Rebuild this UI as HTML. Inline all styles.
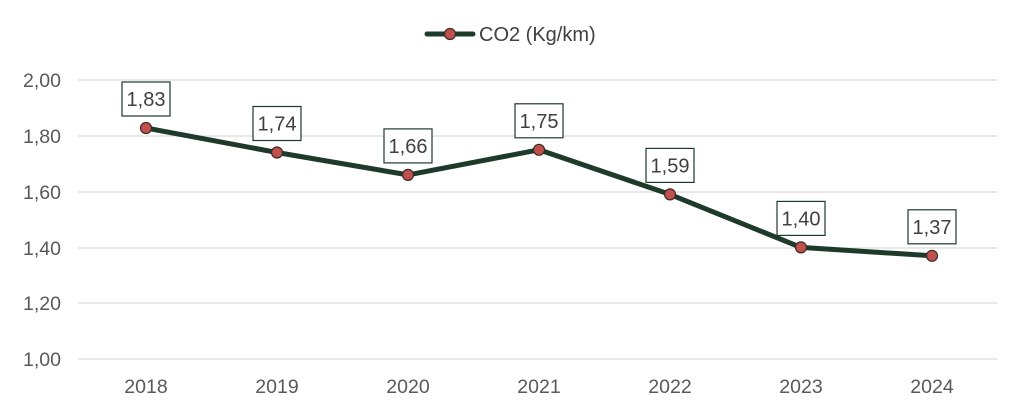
<!DOCTYPE html>
<html><head><meta charset="utf-8"><style>
html,body{margin:0;padding:0;background:#fff;}
svg text{font-family:"Liberation Sans",sans-serif;}
</style></head><body>
<svg width="1024" height="415" viewBox="0 0 1024 415" xmlns="http://www.w3.org/2000/svg">
<rect width="1024" height="415" fill="#fff"/>
<g stroke="#d9d9d9" stroke-width="1.2">
<line x1="78" x2="997" y1="80" y2="80"/>
<line x1="78" x2="997" y1="136" y2="136"/>
<line x1="78" x2="997" y1="192" y2="192"/>
<line x1="78" x2="997" y1="248" y2="248"/>
<line x1="78" x2="997" y1="303" y2="303"/>
<line x1="78" x2="997" y1="359" y2="359"/>
</g>
<g fill="#595959" font-size="19.5" text-anchor="end">
<text x="61" y="87">2,00</text>
<text x="61" y="143">1,80</text>
<text x="61" y="199">1,60</text>
<text x="61" y="255">1,40</text>
<text x="61" y="310">1,20</text>
<text x="61" y="366">1,00</text>
</g>
<g fill="#595959" font-size="19.5" text-anchor="middle">
<text x="146" y="393">2018</text>
<text x="277" y="393">2019</text>
<text x="408" y="393">2020</text>
<text x="539" y="393">2021</text>
<text x="670" y="393">2022</text>
<text x="801" y="393">2023</text>
<text x="932" y="393">2024</text>
</g>
<polyline fill="none" stroke="#1e3a2a" stroke-width="5" stroke-linejoin="round" points="146,128 277,152.5 408,174.9 539,149.8 670,194.4 801,247.4 932,255.8"/>
<g fill="#c0504d" stroke="#3a2a22" stroke-width="1.2">
<circle cx="146" cy="128" r="5.5"/><circle cx="277" cy="152.5" r="5.5"/><circle cx="408" cy="174.9" r="5.5"/><circle cx="539" cy="149.8" r="5.5"/><circle cx="670" cy="194.4" r="5.5"/><circle cx="801" cy="247.4" r="5.5"/><circle cx="932" cy="255.8" r="5.5"/>
</g>
<g fill="#fff" stroke="#1e3a2a" stroke-width="1.2">
<rect x="122" y="82" width="48" height="34"/>
<rect x="253" y="106.5" width="48" height="34"/>
<rect x="384" y="128.9" width="48" height="34"/>
<rect x="515" y="103.8" width="48" height="34"/>
<rect x="646" y="148.4" width="48" height="34"/>
<rect x="777" y="201.4" width="48" height="34"/>
<rect x="908" y="209.8" width="48" height="34"/>
</g>
<g fill="#404040" font-size="20" text-anchor="middle">
<text x="146" y="106">1,83</text>
<text x="277" y="130.5">1,74</text>
<text x="408" y="152.9">1,66</text>
<text x="539" y="127.8">1,75</text>
<text x="670" y="172.4">1,59</text>
<text x="801" y="225.4">1,40</text>
<text x="932" y="233.8">1,37</text>
</g>
<line x1="427" x2="473" y1="34" y2="34" stroke="#1e3a2a" stroke-width="5" stroke-linecap="round"/>
<circle cx="450" cy="34" r="5.5" fill="#c0504d" stroke="#3a2a22" stroke-width="1.2"/>
<text x="479" y="41" font-size="20" fill="#404040">CO2 (Kg/km)</text>
</svg>
</body></html>
